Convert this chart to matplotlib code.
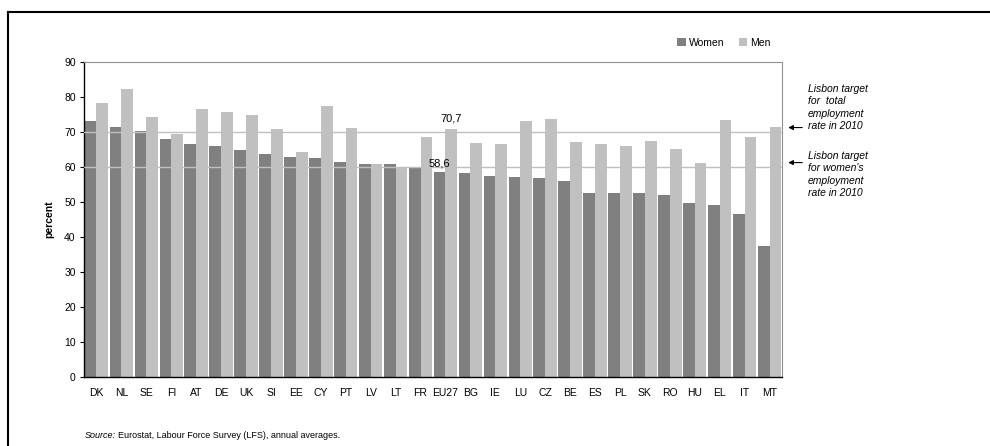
import matplotlib
matplotlib.use("Agg")
import matplotlib.pyplot as plt
import numpy as np

plt.rcParams['font.family'] = ['Liberation Sans', 'DejaVu Sans']

countries = ["DK", "NL", "SE", "FI", "AT", "DE", "UK", "SI", "EE", "CY", "PT", "LV", "LT", "FR",
             "EU27", "BG", "IE", "LU", "CZ", "BE", "ES", "PL", "SK", "RO", "HU", "EL", "IT", "MT"]
women = [73.1, 71.5, 70.2, 67.9, 66.4, 65.9, 64.8, 63.7, 62.9, 62.6, 61.5, 60.8, 60.8, 60.0,
         58.6, 58.2, 57.5, 57.1, 56.7, 56.0, 52.6, 52.6, 52.6, 51.9, 49.7, 49.0, 46.5, 37.5]
men = [78.2, 82.2, 74.2, 69.5, 76.6, 75.6, 74.8, 70.7, 64.1, 77.4, 71.1, 60.8, 59.6, 68.5,
       70.7, 66.7, 66.4, 73.0, 73.7, 67.0, 66.4, 65.9, 67.4, 65.2, 61.1, 73.3, 68.5, 71.5]
yticks = [0, 10, 20, 30, 40, 50, 60, 70, 80, 90]
targets = [70, 60]
target_labels = ["Lisbon target\nfor  total\nemployment\nrate in 2010",
                 "Lisbon target\nfor women's\nemployment\nrate in 2010"]

c_w = "#808080"
c_m = "#c0c0c0"

fig = plt.figure(figsize=(9.9, 4.46), dpi=100)
ax = fig.add_axes([84/990, 1-377/446, (782-84)/990, (377-61.7)/446])

x = np.arange(len(countries))
w = 0.47
ax.bar(x - w/2, women, width=w, color=c_w, label="Women", zorder=2)
ax.bar(x + w/2, men, width=w, color=c_m, label="Men", zorder=2)
for t in targets:
    ax.axhline(t, color=c_m, lw=1.0, zorder=3)

ax.set_xlim(-0.5, len(countries) - 0.5)
ax.set_ylim(0, 90)
ax.set_yticks(yticks)
ax.tick_params(axis='y', direction='out', length=3, width=0.8, labelsize=7.5, pad=3)
ax.set_xticks(x)
ax.set_xticklabels(countries)
ax.tick_params(axis='x', length=0, labelsize=7.5, pad=8)
ax.set_ylabel("percent", fontsize=7.5, fontweight='bold', labelpad=7)

for s in ['left', 'bottom']:
    ax.spines[s].set_color('black')
    ax.spines[s].set_linewidth(1.0)
for s in ['top', 'right']:
    ax.spines[s].set_color('#909090')
    ax.spines[s].set_linewidth(0.8)

i_eu = countries.index("EU27")
ax.text(i_eu + w/2, men[i_eu] + 1.6, f"{men[i_eu]:.1f}".replace('.', ','),
        ha='center', va='bottom', fontsize=8)
ax.text(i_eu - w/2, women[i_eu] + 1.0, f"{women[i_eu]:.1f}".replace('.', ','),
        ha='center', va='bottom', fontsize=8)

ax.legend(loc='lower right', bbox_to_anchor=(0.99, 1.03), ncol=2, frameon=False,
          fontsize=7.5, handlelength=0.8, handleheight=0.8, handletextpad=0.3,
          columnspacing=1.4, borderaxespad=0)

# Right-side annotations
text_tops = [83.7, 64.6]
for t, lab, top in zip(targets, target_labels, text_tops):
    ax.annotate("", xy=(1.005, t + 1.2), xycoords=('axes fraction', 'data'),
                xytext=(1.033, t + 1.2), textcoords=('axes fraction', 'data'),
                arrowprops=dict(arrowstyle='-|>', color='black', lw=0.8,
                                mutation_scale=7),
                annotation_clip=False)
    ax.text(1.037, top, lab, transform=ax.get_yaxis_transform(),
            ha='left', va='top', fontsize=7.5, style='italic', linespacing=1.32)

fig.text(85/990, 1-435/446, "Source:", fontsize=6.5, style='italic', va='center')
fig.text(118/990, 1-435/446, "Eurostat, Labour Force Survey (LFS), annual averages.",
         fontsize=6.5, va='center')

# Outer frame (top and left)
fig.add_artist(plt.Line2D([8/990, 8/990], [0, 1-12/446], color='black', lw=1.5,
                          transform=fig.transFigure))
fig.add_artist(plt.Line2D([8/990, 1], [1-12/446, 1-12/446], color='black', lw=1.5,
                          transform=fig.transFigure))

fig.savefig("out.png", dpi=100)
